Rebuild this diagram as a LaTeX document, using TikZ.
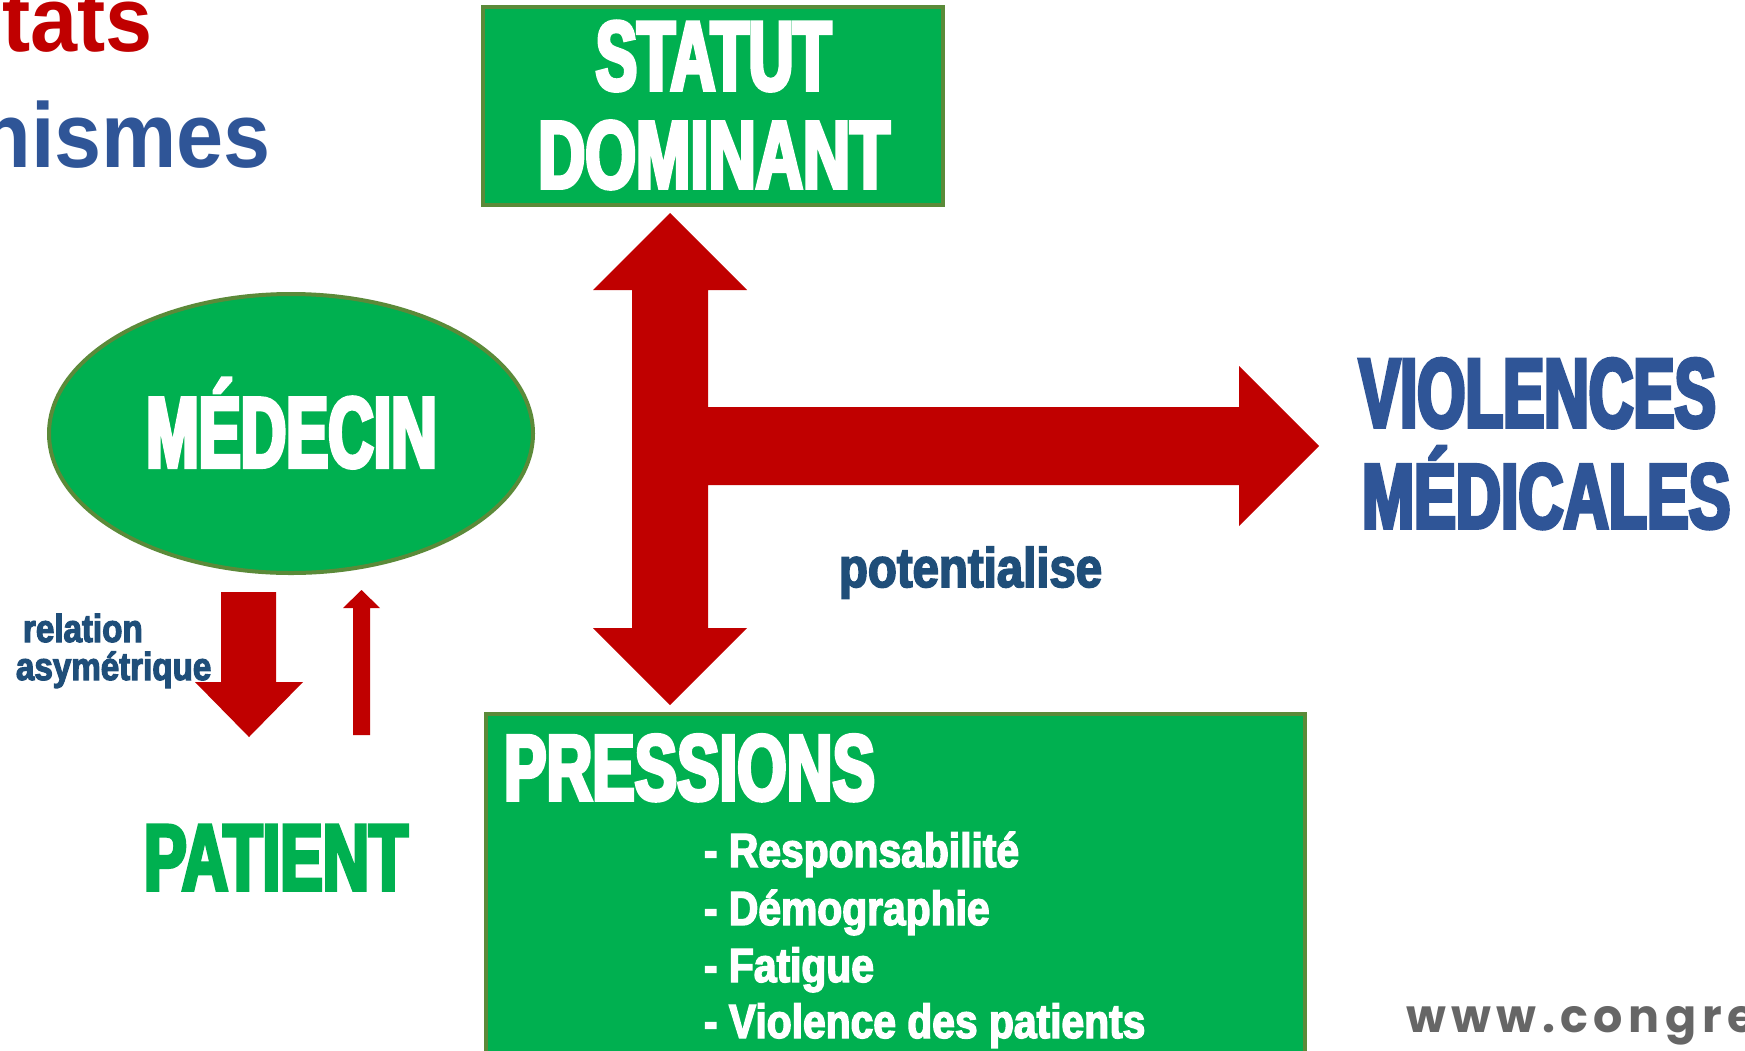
\documentclass[tikz,border=0pt]{standalone}
\usepackage{fontspec}
\setmainfont{Liberation Sans}
\newfontfamily\capfa[FakeStretch=0.63,FakeBold=4]{Liberation Sans}
\newfontfamily\capfb[FakeStretch=0.68,FakeBold=4]{Liberation Sans}
\newfontfamily\lowf[FakeStretch=0.85,FakeBold=3]{Liberation Sans}
\newfontfamily\headf[FakeStretch=0.92]{Liberation Sans}
\newfontfamily\webf[LetterSpace=12]{Poppins}
\usetikzlibrary{shapes.geometric}
\definecolor{gfill}{HTML}{00B050}
\definecolor{gline}{HTML}{5B8A39}
\definecolor{ared}{HTML}{C00000}
\definecolor{vblue}{HTML}{2F5597}
\definecolor{dblue}{HTML}{1F4E79}
\definecolor{wgray}{HTML}{666666}
\newcommand\capsa[1]{\capfa\bfseries\fontsize{#1}{#1}\selectfont}
\newcommand\capsb[1]{\capfb\bfseries\fontsize{#1}{#1}\selectfont}
\newcommand\lowsz[1]{\lowf\bfseries\fontsize{#1}{#1}\selectfont}
\newcommand\headsz[1]{\headf\bfseries\fontsize{#1}{#1}\selectfont}
\tikzset{
  greenbox/.style={draw=gline, fill=gfill, line width=4pt, inner sep=0pt},
  txt/.style={inner sep=0pt, outer sep=0pt},
  redarrow/.style={fill=ared, draw=none},
}
\begin{document}
\begin{tikzpicture}[x=1pt,y=-1pt]
\useasboundingbox (0,0) rectangle (1745,1050);
\clip (0,0) rectangle (1745,1050);

% header fragments
\node[txt, anchor=base east, text=ared, font=\headsz{92}] (res) at (153,51) {tats};
\node[txt, anchor=base east, text=vblue, font=\headsz{92}] (mec) at (271,167) {nismes};

% boxes
\node[greenbox, minimum width=460pt, minimum height=198pt] (statut) at (713,106) {};
\node[txt, anchor=base, text=white, font=\capsa{98.5}] (statutA) at (713.5,90) {STATUT};
\node[txt, anchor=base, text=white, font=\capsb{96}] (statutB) at (714,188) {DOMINANT};

\node[greenbox, ellipse, minimum width=484pt, minimum height=279pt] (medecin) at (291,433.5) {};
\node[txt, anchor=base, text=white, font=\capsa{100}] (medecinT) at (291.5,467) {MÉDECIN};

\node[greenbox, anchor=north west, minimum width=819pt, minimum height=420pt] (pressions) at (484,712) {};
\node[txt, anchor=base west, text=white, font=\capsb{93.5}] (pressionsT) at (504,800) {PRESSIONS};
\node[txt, anchor=base west, text=white, font=\lowsz{48}] (p1) at (704,867) {- Responsabilité};
\node[txt, anchor=base west, text=white, font=\lowsz{48}] (p2) at (704,925) {- Démographie};
\node[txt, anchor=base west, text=white, font=\lowsz{48}] (p3) at (704,982) {- Fatigue};
\node[txt, anchor=base west, text=white, font=\lowsz{48}] (p4) at (704,1038) {- Violence des patients};

\node[txt, anchor=base west, text=vblue, font=\capsa{98}] (violA) at (1359,427) {VIOLENCES};
\node[txt, anchor=base west, text=vblue, font=\capsb{92}] (violB) at (1362,528) {MÉDICALES};

\node[txt, anchor=base west, text=gfill, font=\capsb{94}] (patient) at (144,890) {PATIENT};

% big T-shaped arrow: statut <-> pressions, -> violences
\coordinate (hub) at (670,446);
\fill[redarrow] (670,213) -- (747,290) -- (708,290) -- (708,407) -- (1239,407)
  -- (1239,366) -- (1319,446) -- (1239,526) -- (1239,485) -- (708,485)
  -- (708,628) -- (747,628) -- (670,705) -- (593,628) -- (632,628)
  -- (632,290) -- (593,290) -- cycle;
\node[txt, anchor=base west, text=dblue, font=\lowsz{55.7}] (pot) at (839,587) {potentialise};

% small arrows medecin <-> patient
\fill[redarrow] (221,592) -- (276,592) -- (276,682) -- (303,682) -- (249,737)
  -- (195,682) -- (221,682) -- cycle;
\fill[redarrow] (353,735) -- (370,735) -- (370,608) -- (380,608) -- (361.5,590)
  -- (343,608) -- (353,608) -- cycle;
\node[txt, anchor=base west, text=dblue, font=\lowsz{39}] (relA) at (23,642) {relation};
\node[txt, anchor=base west, text=dblue, font=\lowsz{39}] (relB) at (16,680) {asymétrique};

% web address
\node[txt, anchor=base west, text=wgray, font=\webf\bfseries\fontsize{46}{46}\selectfont] (web) at (1406,1032) {www.congre};
\end{tikzpicture}
\end{document}
